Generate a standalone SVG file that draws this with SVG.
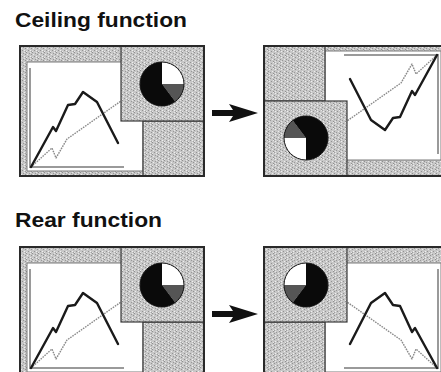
<svg xmlns="http://www.w3.org/2000/svg" xmlns:xlink="http://www.w3.org/1999/xlink" width="441" height="372" viewBox="0 0 441 372">
<style>
.title{font-family:"Liberation Sans",Arial,Helvetica,sans-serif;font-weight:bold;font-size:21px;fill:#111}
.frame{fill:url(#stip);stroke:#2a2a2a;stroke-width:2}
.panel{fill:url(#stip);stroke:#3a3a3a;stroke-width:1.2}
.chart{fill:#fff;stroke:#7a7a7a;stroke-width:1}
.axis{fill:none;stroke:#9a9a9a;stroke-width:2}
.main{fill:none;stroke:#1a1a1a;stroke-width:2.4;stroke-linejoin:round;stroke-linecap:round}
.sec{fill:none;stroke:#8a8a8a;stroke-width:1.4;stroke-dasharray:1.6 1;stroke-linejoin:round}
.arrow{fill:#111}
</style>
<defs>
<pattern id="stip" width="6" height="6" patternUnits="userSpaceOnUse">
<rect width="6" height="6" fill="#c7c7c7"/>
<rect x="0" y="0" width="1" height="1" fill="#8f8f8f"/>
<rect x="3" y="1" width="1" height="1" fill="#999"/>
<rect x="1" y="2" width="1" height="1" fill="#ececec"/>
<rect x="5" y="2" width="1" height="1" fill="#929292"/>
<rect x="2" y="4" width="1" height="1" fill="#939393"/>
<rect x="4" y="4" width="1" height="1" fill="#efefef"/>
<rect x="0" y="5" width="1" height="1" fill="#e8e8e8"/>
<rect x="4" y="0" width="1" height="1" fill="#e6e6e6"/>
<rect x="5" y="5" width="1" height="1" fill="#a0a0a0"/>
</pattern>
<g id="screen">
<rect class="frame" x="0" y="0" width="184" height="130"/>
<rect class="chart" x="7" y="16" width="116" height="109"/>
<rect class="panel" x="123" y="75" width="61" height="55"/>
<polyline class="axis" points="10,22 10,121 104,121"/>
<polyline class="sec" points="11,121 32,102 36,112 47,93 101,55"/>
<polyline class="main" points="11,121 33,81 36,85 48,59 55,58 63,46 77,56 98,97"/>
<rect class="panel" x="101" y="0" width="83" height="75"/>
<path d="M142,38 L142,16 A22,22 0 0 1 164,38 Z" fill="#fff"/>
<path d="M142,38 L164,38 A22,22 0 0 1 155.2,55.6 Z" fill="#555"/>
<path d="M142,38 L155.2,55.6 A22,22 0 1 1 142,16 Z" fill="#0a0a0a"/>
<circle cx="142" cy="38" r="22" fill="none" stroke="#111" stroke-width="1"/>
<rect x="0" y="0" width="184" height="130" fill="none" stroke="#2a2a2a" stroke-width="2"/>
</g>
</defs>
<text class="title" x="15" y="27" textLength="172" lengthAdjust="spacingAndGlyphs">Ceiling function</text>
<text class="title" x="15" y="227" textLength="147" lengthAdjust="spacingAndGlyphs">Rear function</text>
<g id="ceiling-before"><use xlink:href="#screen" href="#screen" transform="translate(20,46)"/></g>
<g id="ceiling-after"><use xlink:href="#screen" href="#screen" transform="translate(448,176) rotate(180)"/></g>
<g id="rear-before"><use xlink:href="#screen" href="#screen" transform="translate(20,247)"/></g>
<g id="rear-after"><use xlink:href="#screen" href="#screen" transform="translate(448,247) scale(-1,1)"/></g>
<g id="connectors">
<path class="arrow" d="M212,110 H233 L229,104 L258,113 L229,122 L233,116 H212 Z"/>
<path class="arrow" d="M212,311 H233 L229,305 L258,314 L229,323 L233,317 H212 Z"/>
</g>
</svg>
